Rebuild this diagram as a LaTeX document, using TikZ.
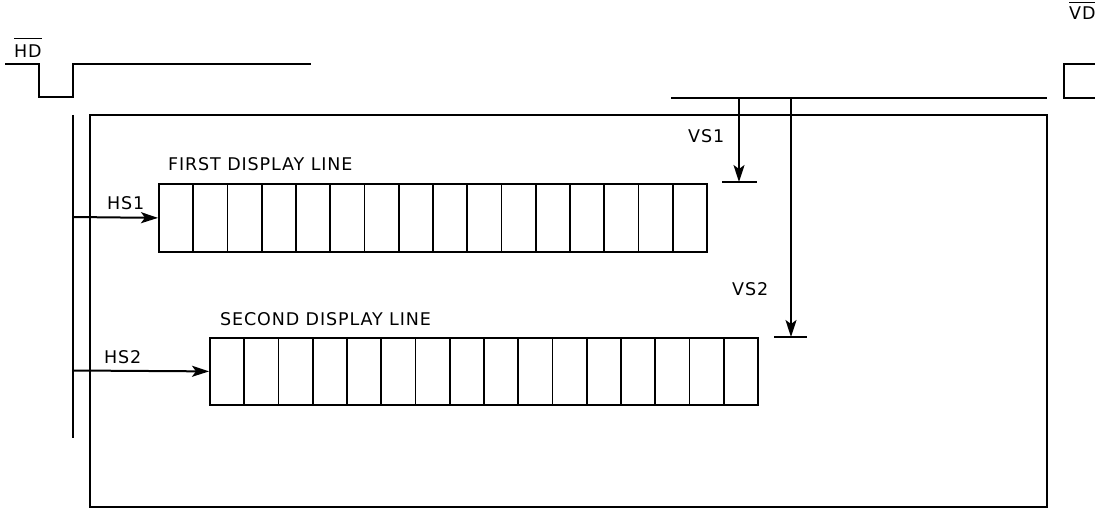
\documentclass[tikz,border=0pt]{standalone}
\usepackage{fontspec}
\newfontfamily\lblfont[LetterSpace=5]{DejaVu Sans}
\usetikzlibrary{arrows.meta, positioning, calc}

\tikzset{
  sig/.style={line width=2pt},
  lbl/.style={font=\lblfont\fontsize{17.5}{21}\selectfont, inner sep=0pt, anchor=west},
  cellbox/.style={draw, line width=1.8pt, minimum width=34.25pt, inner sep=0pt, anchor=north west},
  toarrow/.style={sig, -{Stealth[length=17pt,width=11pt,inset=4pt]}},
}

\begin{document}
\begin{tikzpicture}[x=1pt, y=-1pt]
  \useasboundingbox (0,0) rectangle (1095,510);

  % HD and VD waveforms
  \draw[sig] (5,64) -- (39,64) -- (39,97) -- (73,97) -- (73,64) -- (311,64);
  \draw[sig] (1095,64) -- (1064,64) -- (1064,98) -- (1095,98);
  \node[lbl] (hd) at (14,51) {HD};
  \draw[line width=1.2pt] ([yshift=6pt]hd.north west) -- ([yshift=6pt]hd.north east);
  \node[lbl] (vd) at (1069,13) {VD};
  \draw[line width=1.2pt] ([yshift=4pt]vd.north west) -- ([yshift=4pt]vd.north east);

  % screen frame and sync lines
  \draw[sig] (90,115) rectangle (1047,507);
  \coordinate (hstop) at (73,115);
  \coordinate (hsbot) at (73,438);
  \draw[sig] (hstop) -- (hsbot);
  \coordinate (vsleft) at (671,98);
  \coordinate (vsright) at (1047,98);
  \draw[sig] (vsleft) -- (vsright);

  % display lines
  \foreach \i in {0,...,15}
    \node[cellbox, minimum height=68pt] (first\i) at (158+\i*34.25,183) {};
  \foreach \i in {0,...,15}
    \node[cellbox, minimum height=67pt] (second\i) at (209+\i*34.25,337) {};
  \node[lbl] (firstlbl) at (168,164) {FIRST DISPLAY LINE};
  \node[lbl] (secondlbl) at (220,319) {SECOND DISPLAY LINE};

  % horizontal start
  \coordinate (hs1) at (73,217);
  \coordinate (hs2) at (73,370.5);
  \draw[toarrow] (hs1) -- (first0.west);
  \draw[toarrow] (hs2) -- (second0.west);
  \node[lbl] (hs1lbl) at (107,203.5) {HS1};
  \node[lbl] (hs2lbl) at (104,357.5) {HS2};

  % vertical start
  \coordinate (vs1) at (739,98);
  \coordinate (vs1end) at (739,182);
  \coordinate (vs2) at (791,98);
  \coordinate (vs2end) at (791,337);
  \draw[toarrow] (vs1) -- (vs1end);
  \draw[toarrow] (vs2) -- (vs2end);
  \draw[sig] ($(vs1end)+(-17,0)$) -- ($(vs1end)+(18,0)$);
  \draw[sig] ($(vs2end)+(-17,0)$) -- ($(vs2end)+(16,0)$);
  \node[lbl] (vs1lbl) at (688,136.5) {VS1};
  \node[lbl] (vs2lbl) at (732,289.5) {VS2};
\end{tikzpicture}
\end{document}
